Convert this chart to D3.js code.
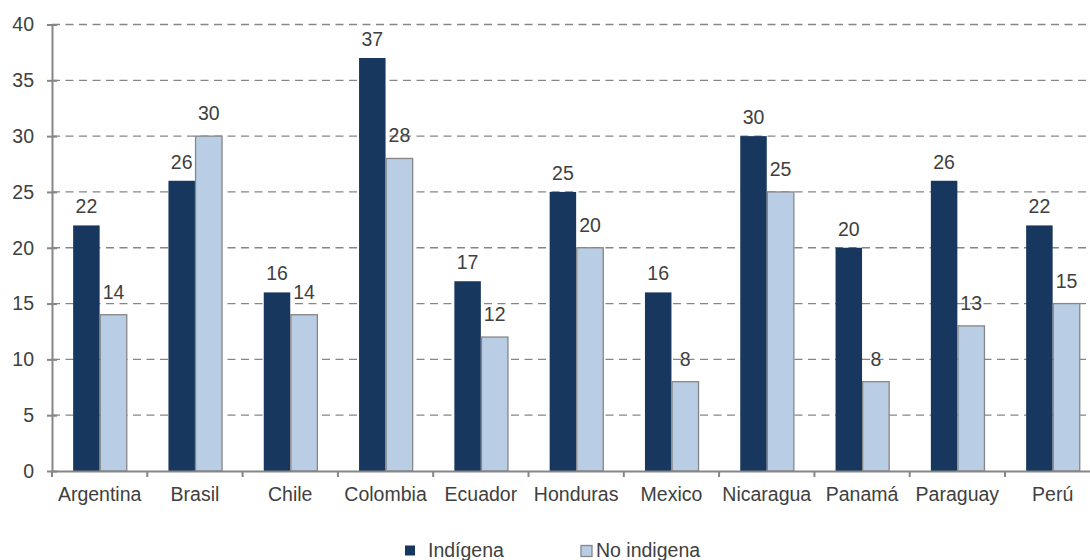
<!DOCTYPE html>
<html><head><meta charset="utf-8">
<script src="https://cdn.jsdelivr.net/npm/d3@7"></script>
<style>body{margin:0;background:#fff}svg{display:block;font-family:"Liberation Sans",Arial,sans-serif}</style>
</head><body><svg id="c" width="1090" height="560"></svg>
<script>
const categories = ["Argentina","Brasil","Chile","Colombia","Ecuador","Honduras","Mexico","Nicaragua","Panamá","Paraguay","Perú"];
const indigena = [22,26,16,37,17,25,16,30,20,26,22];
const noIndigena = [14,30,14,28,12,20,8,25,8,13,15];
const yTicks = [0,5,10,15,20,25,30,35,40];
const seriesNames = ["Indígena","No indigena"];

const svg = d3.select("#c");
const L = 52, R = 52 + 11*95.3, T = 24.5, B = 471;
const x = d3.scaleBand().domain(categories).range([L, R]).paddingInner(0).paddingOuter(0);
const y = d3.scaleLinear().domain([0,40]).range([B, T]);
const gray = "#868686", txt = "#404040";
const dark = "#17375E", light = "#B9CDE5";
const bw = 26.5, fs = 19.5;
const ff = '"Liberation Sans",Arial,sans-serif';

// gridlines
svg.append("g").selectAll("line").data(yTicks.filter(d=>d>0)).join("line")
  .attr("x1", L).attr("x2", R).attr("y1", d=>y(d)).attr("y2", d=>y(d))
  .attr("stroke", gray).attr("stroke-width", 1.3).attr("stroke-dasharray", "8,5.5");

// bars
const g = svg.append("g");
categories.forEach((c,i)=>{
  const cx = x(c) + x.bandwidth()/2;
  g.append("rect").attr("x", cx - bw).attr("width", bw)
    .attr("y", y(indigena[i])).attr("height", y(0)-y(indigena[i]))
    .attr("fill", dark);
  g.append("rect").attr("x", cx + 0.6).attr("width", bw)
    .attr("y", y(noIndigena[i])).attr("height", y(0)-y(noIndigena[i]))
    .attr("fill", light).attr("stroke", gray).attr("stroke-width", 1.3);
  g.append("text").attr("x", cx - bw/2).attr("y", y(indigena[i]) - 12)
    .attr("text-anchor","middle").attr("font-size",fs).attr("fill",txt).text(indigena[i]);
  g.append("text").attr("x", cx + bw/2 + 0.6).attr("y", y(noIndigena[i]) - 16)
    .attr("text-anchor","middle").attr("font-size",fs).attr("fill",txt).text(noIndigena[i]);
});

// y axis
const ya = svg.append("g").attr("transform", `translate(${L},0)`)
  .call(d3.axisLeft(y).tickValues(yTicks).tickSize(0).tickPadding(18));
ya.select(".domain").attr("stroke", gray).attr("stroke-width", 2);
ya.selectAll("text").attr("font-size", fs).attr("fill", txt).attr("font-family", ff);
ya.selectAll(".tick").append("line").attr("x1",-5).attr("x2",5).attr("stroke",gray).attr("stroke-width",2);
svg.append("line").attr("x1",L).attr("x2",L).attr("y1",B).attr("y2",B+6).attr("stroke",gray).attr("stroke-width",2);

// x axis
const xa = svg.append("g").attr("transform", `translate(0,${B})`)
  .call(d3.axisBottom(x).tickSize(0).tickPadding(16));
xa.select(".domain").attr("stroke", gray).attr("stroke-width", 2);
xa.selectAll("text").attr("font-size", fs).attr("fill", txt).attr("font-family", ff);
svg.append("g").selectAll("line").data(categories.slice(1)).join("line")
  .attr("x1", d=>x(d)).attr("x2", d=>x(d)).attr("y1", B).attr("y2", B+6)
  .attr("stroke", gray).attr("stroke-width", 2);

// legend
const lg = svg.append("g");
lg.append("rect").attr("x",405).attr("y",545.5).attr("width",10).attr("height",10).attr("fill",dark);
lg.append("text").attr("x",428).attr("y",557).attr("font-size",fs).attr("fill",txt).text(seriesNames[0]);
lg.append("rect").attr("x",581).attr("y",545.5).attr("width",11).attr("height",11).attr("fill",light).attr("stroke",gray).attr("stroke-width",1.3);
lg.append("text").attr("x",596).attr("y",557).attr("font-size",fs).attr("fill",txt).text(seriesNames[1]);
</script></body></html>
